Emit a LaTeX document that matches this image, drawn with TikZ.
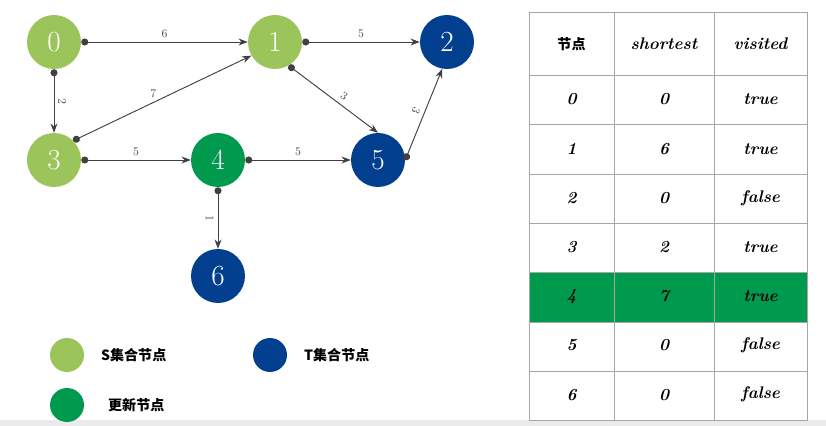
\documentclass[tikz,border=0pt]{standalone}
\usepackage{fontspec}
\newfontfamily\cjk{Noto Sans CJK SC}
\usetikzlibrary{arrows.meta}
\definecolor{colorsset}{HTML}{9BC45A}
\definecolor{colortset}{HTML}{033F8F}
\definecolor{colornew}{HTML}{009A4E}

\begin{document}
\begin{tikzpicture}
    [x=0.03cm, y=-0.03cm,
     >={Stealth[scale=1.2]},  % Uniform arrow style
     vertex/.style={circle, minimum size=1.62cm, inner sep=0pt, text=white, font=\Huge},
     edge/.style={draw=black!75, thick, {Circle[length=6pt]}->},
     weight/.style={font=\normalsize, text=black!70},
     legdot/.style={circle, minimum size=1.02cm, inner sep=0pt},
     legtext/.style={font=\cjk\bfseries\large, anchor=west},
     cell/.style={font=\bfseries\itshape\Large},
    ]

\useasboundingbox (0,0) rectangle (826,426);
\fill[black!8] (0,420) rectangle (826,426);

% graph
\node[vertex, fill=colorsset] (v0) at (54,42) {0};
\node[vertex, fill=colorsset] (v1) at (275,42) {1};
\node[vertex, fill=colortset] (v2) at (447,42) {2};
\node[vertex, fill=colorsset] (v3) at (54,160) {3};
\node[vertex, fill=colornew] (v4) at (218,160) {4};
\node[vertex, fill=colortset] (v5) at (378,160) {5};
\node[vertex, fill=colortset] (v6) at (218,276) {6};

\draw[edge] (v0.east) -- node[weight, above] {6} (v1.west);
\draw[edge] (v0.south) -- node[weight, rotate=-90, anchor=south] {2} (v3.north);
\draw[edge] (v3.45) -- node[weight, above, pos=0.45] {7} (v1.210);
\draw[edge] (v1.east) -- node[weight, above] {5} (v2.west);
\draw[edge] (v1.-60) -- node[weight, above right, rotate=-35] {3} (v5.north);
\draw[edge] (v3.east) -- node[weight, above] {5} (v4.west);
\draw[edge] (v4.east) -- node[weight, above] {5} (v5.west);
\draw[edge] (v5.east) -- node[weight, rotate=-115, anchor=north] {3} (v2.-100);
\draw[edge] (v4.south) -- node[weight, rotate=-90, anchor=north] {1} (v6.north);

% legend
\node[legdot, fill=colorsset] (leg_s) at (67,355) {};
\node[legdot, fill=colortset] (leg_t) at (270,355) {};
\node[legdot, fill=colornew] (leg_n) at (67,405) {};
\node[legtext] (legtxt_s) at (97,355) {S集合节点};
\node[legtext] (legtxt_t) at (300,355) {T集合节点};
\node[legtext] (legtxt_n) at (104,405) {更新节点};

% table
\fill[colornew] (529,272) rectangle (807,322);
\draw[black!35] (529,12) rectangle (807,420);
\foreach \xx in {614,714} \draw[black!35] (\xx,12) -- (\xx,420);
\foreach \yy in {75,124,174,223,272,322,371} \draw[black!35] (529,\yy) -- (807,\yy);
\node[font=\cjk\bfseries\large] (head_node) at (571.5,44) {节点};
\node[cell] (head_short) at (664,44) {shortest};
\node[cell] (head_vis) at (760.5,44) {visited};
\foreach \ii/\dd/\vv [count=\rr from 0] in {0/0/true,1/6/true,2/0/false,3/2/true,4/7/true,5/0/false,6/0/false}
{
  \node[cell] (id\rr) at (571.5,99.5+49.2*\rr) {\ii};
  \node[cell] (dist\rr) at (664,99.5+49.2*\rr) {\dd};
  \node[cell] (vis\rr) at (760.5,99.5+49.2*\rr) {\vv};
}

\end{tikzpicture}
\end{document}
